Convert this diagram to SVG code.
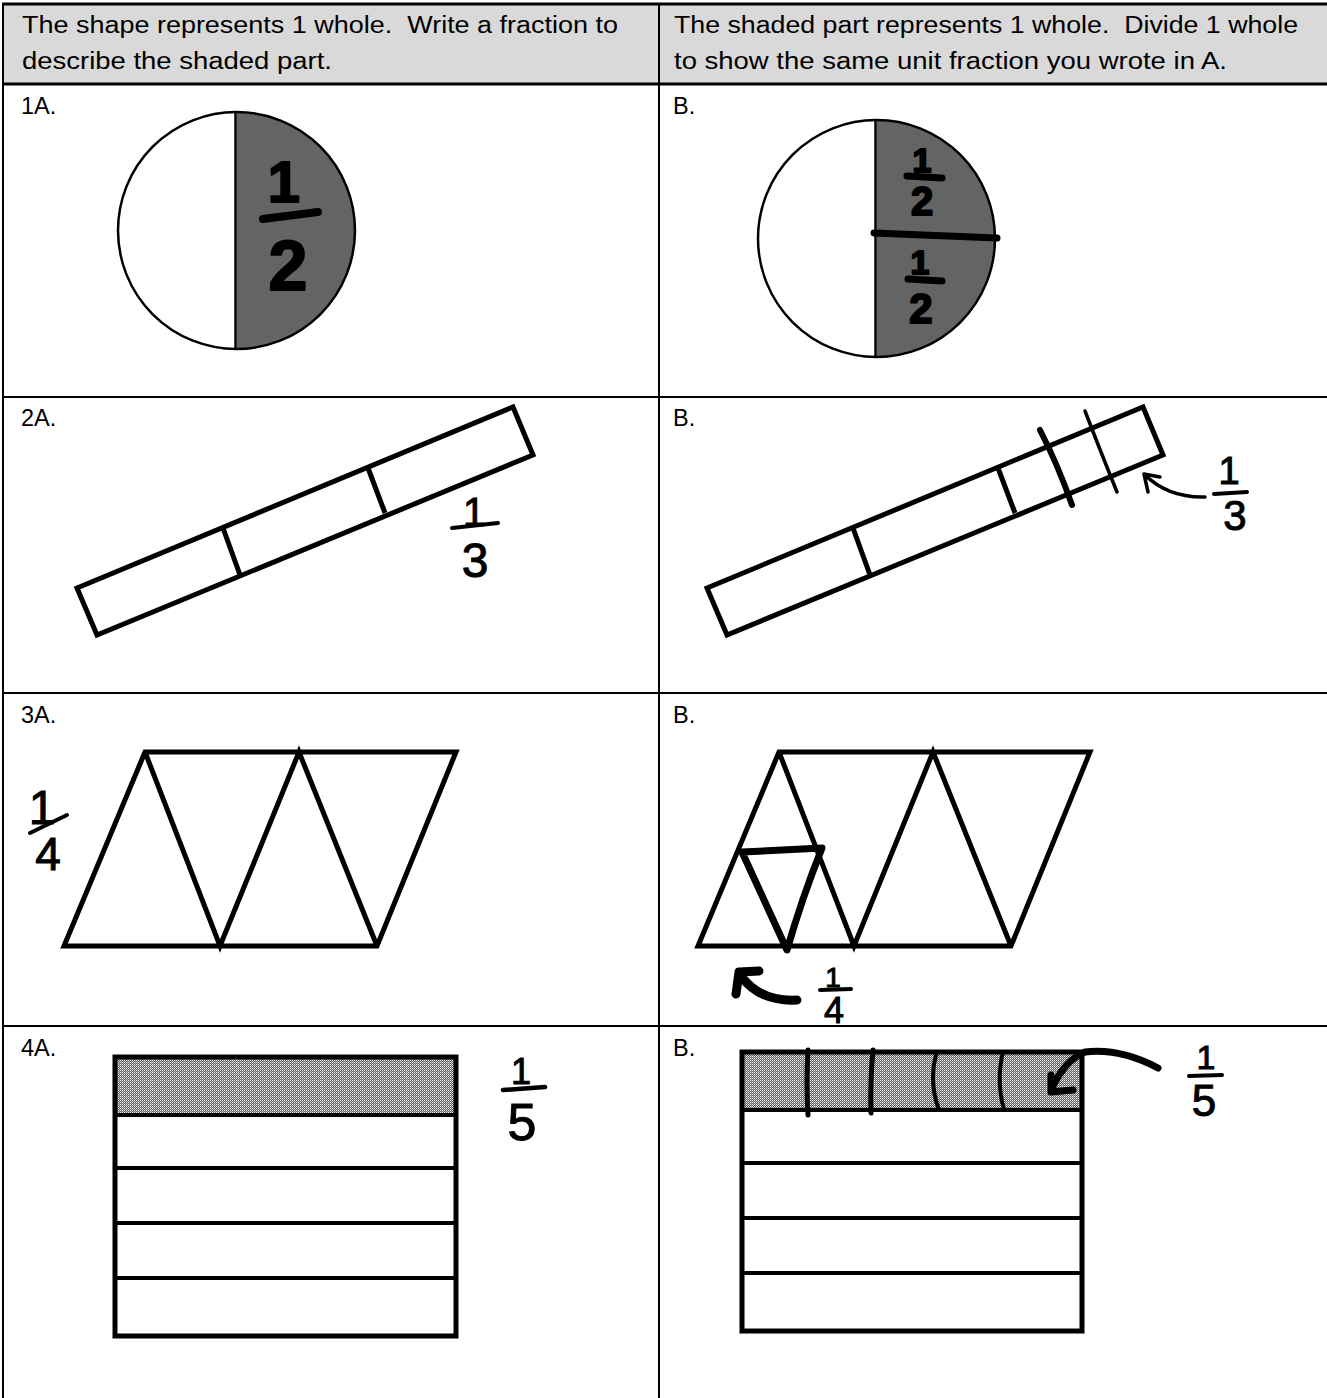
<svg xmlns="http://www.w3.org/2000/svg" width="1327" height="1398" viewBox="0 0 1327 1398">
<style>
.t{font-family:"Liberation Sans",Arial,sans-serif;font-size:23.5px;fill:#000}
.sh{fill:none;stroke:#000;stroke-width:5;stroke-linejoin:miter}
.ln{stroke:#000;stroke-width:4}
.dv{stroke:#000;stroke-width:5}
.ink{fill:none;stroke:#000;stroke-linecap:round;stroke-linejoin:round}
.hb{font-family:"Liberation Sans",Arial,sans-serif;font-weight:bold;text-anchor:middle;fill:#000;stroke:#000;stroke-width:2;stroke-linejoin:round}
.hp{font-family:"Liberation Sans",Arial,sans-serif;text-anchor:middle;fill:#000;stroke:#000;stroke-width:1}
.grid{stroke:#000}
</style>
<defs>
<pattern id="dots" width="2" height="2" patternUnits="userSpaceOnUse">
<rect width="2" height="2" fill="#5a5a5a"/>
<rect width="1" height="1" fill="#ffffff"/>
<rect x="1" y="1" width="1" height="1" fill="#bbbbbb"/>
</pattern>
</defs>
<rect width="1327" height="1398" fill="#fff"/>
<g id="table">
<rect x="3" y="5" width="1324" height="78" fill="#d9d9d9"/>
<line class="grid" x1="2" y1="4" x2="1327" y2="4" stroke-width="3"/>
<line class="grid" x1="2" y1="84" x2="1327" y2="84" stroke-width="3"/>
<line class="grid" x1="2" y1="397" x2="1327" y2="397" stroke-width="2"/>
<line class="grid" x1="2" y1="693" x2="1327" y2="693" stroke-width="2"/>
<line class="grid" x1="2" y1="1026" x2="1327" y2="1026" stroke-width="2"/>
<line class="grid" x1="3" y1="3" x2="3" y2="1398" stroke-width="2"/>
<line class="grid" x1="659" y1="3" x2="659" y2="1398" stroke-width="2"/>
</g>
<g id="header">
<text class="t" x="22" y="33" textLength="596" lengthAdjust="spacingAndGlyphs" xml:space="preserve">The shape represents 1 whole.  Write a fraction to</text>
<text class="t" x="22" y="69" textLength="310" lengthAdjust="spacingAndGlyphs">describe the shaded part.</text>
<text class="t" x="674" y="33" textLength="624" lengthAdjust="spacingAndGlyphs" xml:space="preserve">The shaded part represents 1 whole.  Divide 1 whole</text>
<text class="t" x="674" y="69" textLength="553" lengthAdjust="spacingAndGlyphs">to show the same unit fraction you wrote in A.</text>
</g>
<g id="labels">
<text class="t" x="21" y="114">1A.</text>
<text class="t" x="673" y="114">B.</text>
<text class="t" x="21" y="426">2A.</text>
<text class="t" x="673" y="426">B.</text>
<text class="t" x="21" y="723">3A.</text>
<text class="t" x="673" y="723">B.</text>
<text class="t" x="21" y="1056">4A.</text>
<text class="t" x="673" y="1056">B.</text>
</g>
<g id="q1a">
<path d="M236.5,112 A118.5,118.5 0 0 1 236.5,349 Z" fill="#646464"/>
<circle cx="236.5" cy="230.5" r="118.5" fill="none" stroke="#000" stroke-width="2.5"/>
<line x1="235.5" y1="112" x2="235.5" y2="349" stroke="#000" stroke-width="2.5"/>
<text class="hb" x="284" y="202" font-size="58">1</text>
<line class="ink" x1="263" y1="219" x2="318" y2="212" stroke-width="8"/>
<text class="hb" x="288" y="290" font-size="70">2</text>
</g>
<g id="q1b">
<path d="M876.5,120 A118.5,118.5 0 0 1 876.5,357 Z" fill="#646464"/>
<circle cx="876.5" cy="238.5" r="118.5" fill="none" stroke="#000" stroke-width="2.5"/>
<line x1="875.5" y1="120" x2="875.5" y2="357" stroke="#000" stroke-width="2.5"/>
<line class="ink" x1="874" y1="233" x2="997" y2="238" stroke-width="7"/>
<text class="hb" x="922" y="172" font-size="34">1</text>
<line class="ink" x1="907" y1="176" x2="942" y2="178" stroke-width="7"/>
<text class="hb" x="922" y="215" font-size="40">2</text>
<text class="hb" x="920" y="274" font-size="34">1</text>
<line class="ink" x1="908" y1="279" x2="942" y2="281" stroke-width="7"/>
<text class="hb" x="921" y="323" font-size="42">2</text>
</g>
<g id="q2a">
<polygon class="sh" points="77,588 513,407 533,455 97,635"/>
<line class="dv" x1="223" y1="528" x2="240" y2="575"/>
<line class="dv" x1="368" y1="468" x2="385" y2="513"/>
<text class="hp" x="474" y="526" font-size="40">1</text>
<line class="ink" x1="452" y1="528" x2="498" y2="523" stroke-width="4"/>
<text class="hp" x="475" y="577" font-size="48">3</text>
</g>
<g id="q2b">
<polygon class="sh" points="707,588 1143,407 1163,455 727,635"/>
<line class="dv" x1="853" y1="528" x2="870" y2="575"/>
<line class="dv" x1="998" y1="468" x2="1015" y2="513"/>
<path class="ink" d="M1040,430 Q1058,465 1072,505" stroke-width="6"/>
<path class="ink" d="M1085,411 Q1100,450 1117,492" stroke-width="3.5"/>
<path class="ink" d="M1205,497 Q1168,498 1144,474 M1160,477 L1144,474 L1148,492" stroke-width="3.5"/>
<text class="hp" x="1229" y="484" font-size="38">1</text>
<line class="ink" x1="1214" y1="494" x2="1247" y2="492" stroke-width="4"/>
<text class="hp" x="1235" y="530" font-size="42">3</text>
</g>
<g id="q3a">
<path class="sh" d="M145,752 L456,752 L377,946 L64,946 Z M145,752 L220,946 L299,752 L377,946"/>
<text class="hp" x="42" y="824" font-size="48">1</text>
<line class="ink" x1="30" y1="833" x2="67" y2="815" stroke-width="4"/>
<text class="hp" x="48" y="870" font-size="46">4</text>
</g>
<g id="q3b">
<path class="sh" d="M779,752 L1090,752 L1011,946 L698,946 Z M779,752 L854,946 L933,752 L1011,946"/>
<path class="ink" d="M742,852 L822,848 Q802,898 787,950 Z" stroke-width="7"/>
<path class="ink" d="M797,1000 Q760,1002 741,976 M759,971 L739,972 L736,994" stroke-width="9"/>
<text class="hp" x="833" y="987" font-size="28">1</text>
<line class="ink" x1="820" y1="990" x2="851" y2="989" stroke-width="4"/>
<text class="hp" x="834" y="1023" font-size="36">4</text>
</g>
<g id="q4a">
<rect x="115" y="1057" width="341" height="58" fill="url(#dots)"/>
<g stroke="#fff" stroke-width="1" stroke-dasharray="1 2" opacity="0.6">
<line x1="152" y1="1059" x2="152" y2="1113"/>
<line x1="237" y1="1059" x2="237" y2="1113"/>
<line x1="322" y1="1059" x2="322" y2="1113"/>
<line x1="407" y1="1059" x2="407" y2="1113"/>
</g>
<rect class="sh" x="115" y="1057" width="341" height="279"/>
<line class="ln" x1="115" y1="1115" x2="456" y2="1115"/>
<line class="ln" x1="115" y1="1168" x2="456" y2="1168"/>
<line class="ln" x1="115" y1="1223" x2="456" y2="1223"/>
<line class="ln" x1="115" y1="1278" x2="456" y2="1278"/>
<text class="hp" x="521" y="1084" font-size="36">1</text>
<line class="ink" x1="503" y1="1090" x2="545" y2="1087" stroke-width="4.5"/>
<text class="hp" x="522" y="1140" font-size="52">5</text>
</g>
<g id="q4b">
<rect x="742" y="1052" width="340" height="58" fill="url(#dots)"/>
<rect class="sh" x="742" y="1052" width="340" height="279"/>
<line class="ln" x1="742" y1="1110" x2="1082" y2="1110"/>
<line class="ln" x1="742" y1="1163" x2="1082" y2="1163"/>
<line class="ln" x1="742" y1="1218" x2="1082" y2="1218"/>
<line class="ln" x1="742" y1="1273" x2="1082" y2="1273"/>
<path class="ink" d="M808,1050 Q806,1082 808,1115" stroke-width="5"/>
<path class="ink" d="M873,1050 Q870,1082 871,1113" stroke-width="5"/>
<path class="ink" d="M937,1052 Q928,1080 939,1110" stroke-width="4"/>
<path class="ink" d="M1003,1052 Q996,1080 1004,1110" stroke-width="4"/>
<path class="ink" d="M1158,1068 Q1120,1048 1085,1052 Q1065,1060 1052,1088 M1051,1075 L1051,1092 L1073,1090" stroke-width="7"/>
<text class="hp" x="1206" y="1069" font-size="34">1</text>
<line class="ink" x1="1189" y1="1076" x2="1222" y2="1075" stroke-width="4"/>
<text class="hp" x="1204" y="1116" font-size="44">5</text>
</g>
</svg>
